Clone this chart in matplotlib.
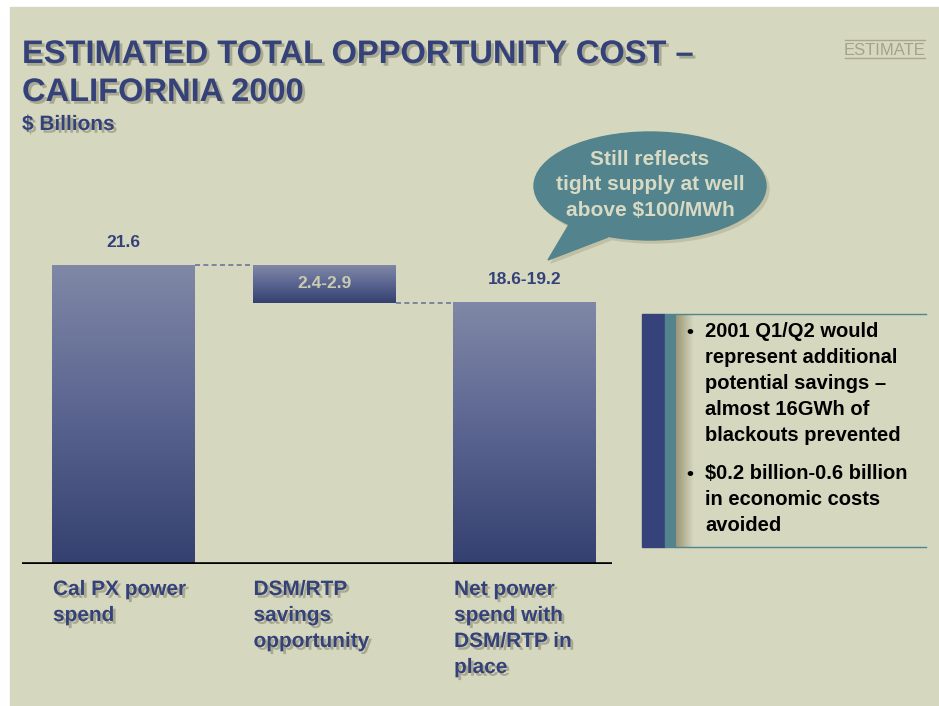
import numpy as np
import matplotlib
matplotlib.use("Agg")
import matplotlib.pyplot as plt
import matplotlib.patheffects as pe
from matplotlib.patches import Rectangle, Ellipse, Polygon
from matplotlib.colors import LinearSegmentedColormap

# data
categories = ["Cal PX power\nspend", "DSM/RTP\nsavings\nopportunity",
              "Net power\nspend with\nDSM/RTP in\nplace"]
bar_bottoms = [0, 18.9, 0]
bar_heights = [21.6, 2.7, 18.9]
value_labels = ["21.6", "2.4-2.9", "18.6-19.2"]
bubble_lines = ["Still reflects", "tight supply at well", "above $100/MWh"]
bullets = [["2001 Q1/Q2 would", "represent additional", "potential savings \u2013",
            "almost 16GWh of", "blackouts prevented"],
           ["$0.2 billion-0.6 billion", "in economic costs", "avoided"]]

BG = "#D5D8BF"
NAVY = "#35427A"
TEAL = "#53838C"
SHADOW = "#A9A991"
SANS = ["Liberation Sans", "DejaVu Sans"]

W, H = 939, 706
fig = plt.figure(figsize=(W / 100, H / 100), dpi=100, facecolor="white")

# overlay in pixel coordinates
ov = fig.add_axes([0, 0, 1, 1])
ov.set_xlim(0, W)
ov.set_ylim(H, 0)
ov.axis("off")
ov.add_patch(Rectangle((10, 7), W - 10, H - 7, color=BG, zorder=0))

shadow = [pe.SimplePatchShadow(offset=(2, -2), shadow_rgbFace=SHADOW, alpha=1), pe.Normal()]

ov.text(22, 63, "ESTIMATED TOTAL OPPORTUNITY COST \u2013", family=SANS, weight="bold",
        fontsize=23.5, color=NAVY, va="baseline", path_effects=shadow)
ov.text(22, 101, "CALIFORNIA 2000", family=SANS, weight="bold",
        fontsize=23.5, color=NAVY, va="baseline", path_effects=shadow)
ov.text(22, 130, "$ Billions", family=SANS, weight="bold",
        fontsize=15, color=NAVY, va="baseline", path_effects=shadow)

# ESTIMATE tag
ov.text(885, 55, "ESTIMATE", family=SANS, fontsize=12, color="#A5A28C",
        ha="center", va="baseline")
ov.plot([845, 925], [40, 40], color="#A9A690", lw=1)
ov.plot([845, 925], [58, 58], color="#A9A690", lw=1)

# speech bubble
ov.add_patch(Ellipse((653, 189), 232, 108, color="#BFC0A6", zorder=1))
ov.add_patch(Polygon([(573, 226), (611, 240), (551, 263)], color="#BFC0A6", zorder=1))
ov.add_patch(Ellipse((650, 186), 232, 108, color=TEAL, zorder=2))
ov.add_patch(Polygon([(570, 223), (608, 237), (548, 260)], color=TEAL, zorder=2))
for i, line in enumerate(bubble_lines):
    ov.text(650, 165 + i * 25.5, line, family=SANS, weight="bold", fontsize=15,
            color="#D8DAC3", ha="center", va="baseline", zorder=3)

# side box
ov.add_patch(Rectangle((642, 314), 23, 233, color="#36437A", zorder=1))
ov.add_patch(Rectangle((665, 314), 11, 233, color=TEAL, zorder=1))
sh_cmap = LinearSegmentedColormap.from_list("sh", ["#9C9677", BG])
ov.imshow(np.linspace(0, 1, 64).reshape(1, -1), cmap=sh_cmap, aspect="auto",
          extent=[676, 694, 547, 314], zorder=1)
ov.plot([676, 926], [314, 314], color=TEAL, lw=1, zorder=2)
ov.plot([676, 926], [547, 547], color=TEAL, lw=1, zorder=2)
y = 337
for group in bullets:
    ov.text(686, y, "\u2022", family=SANS, weight="bold", fontsize=14, color="black", va="baseline")
    for line in group:
        ov.text(705, y, line, family=SANS, weight="bold", fontsize=14.5, color="black", va="baseline")
        y += 26
    y += 12
ov.set_xlim(0, W)
ov.set_ylim(H, 0)

# bar chart
ax = fig.add_axes([22 / W, (H - 564) / H, 590 / W, 415 / H])
ax.patch.set_alpha(0)
x = np.arange(len(categories))
bars = ax.bar(x, bar_heights, bottom=bar_bottoms, width=0.713, color="none", zorder=2)
ax.set_xlim(-0.506, 2.436)
ax.set_ylim(0, 30)

cmap = LinearSegmentedColormap.from_list("bar", ["#34406F", "#5A6490", "#8088A6"])
grad = np.linspace(0, 1, 256).reshape(-1, 1)
for b in bars:
    x0, y0 = b.get_x(), b.get_y()
    ax.imshow(grad, cmap=cmap, origin="lower", aspect="auto", zorder=2,
              extent=[x0, x0 + b.get_width(), y0, y0 + b.get_height()])

# connectors
tops = [b + h for b, h in zip(bar_bottoms, bar_heights)]
ax.plot([bars[0].get_x() + bars[0].get_width(), bars[1].get_x()], [tops[0], tops[0]],
        color="#6E7598", lw=1.2, ls=(0, (3, 2)), zorder=1)
ax.plot([bars[1].get_x() + bars[1].get_width(), bars[2].get_x()], [bar_bottoms[1], bar_bottoms[1]],
        color="#6E7598", lw=1.2, ls=(0, (3, 2)), zorder=1)

ax.text(x[0], tops[0] + 1.1, value_labels[0], ha="center", va="bottom", family=SANS,
        weight="bold", fontsize=12.5, color=NAVY)
ax.text(x[1], bar_bottoms[1] + bar_heights[1] / 2, value_labels[1], ha="center", va="center",
        family=SANS, weight="bold", fontsize=12.5, color="#C8CBB0", zorder=3)
ax.text(x[2], tops[2] + 1.1, value_labels[2], ha="center", va="bottom", family=SANS,
        weight="bold", fontsize=12.5, color=NAVY)

ax.axhline(0, color="black", lw=2.6, zorder=3)
ax.set_xlim(-0.506, 2.436)
ax.set_ylim(0, 30)
ax.axis("off")

# category labels below baseline
for b, lab in zip(bars, categories):
    px, py = ax.transData.transform((b.get_x(), 0))
    for i, line in enumerate(lab.split("\n")):
        ov.text(px + 1, H - py + 31 + i * 26, line, family=SANS, weight="bold", fontsize=15,
                color=NAVY, va="baseline", path_effects=shadow)

fig.savefig("out.png", dpi=100, facecolor="white")
